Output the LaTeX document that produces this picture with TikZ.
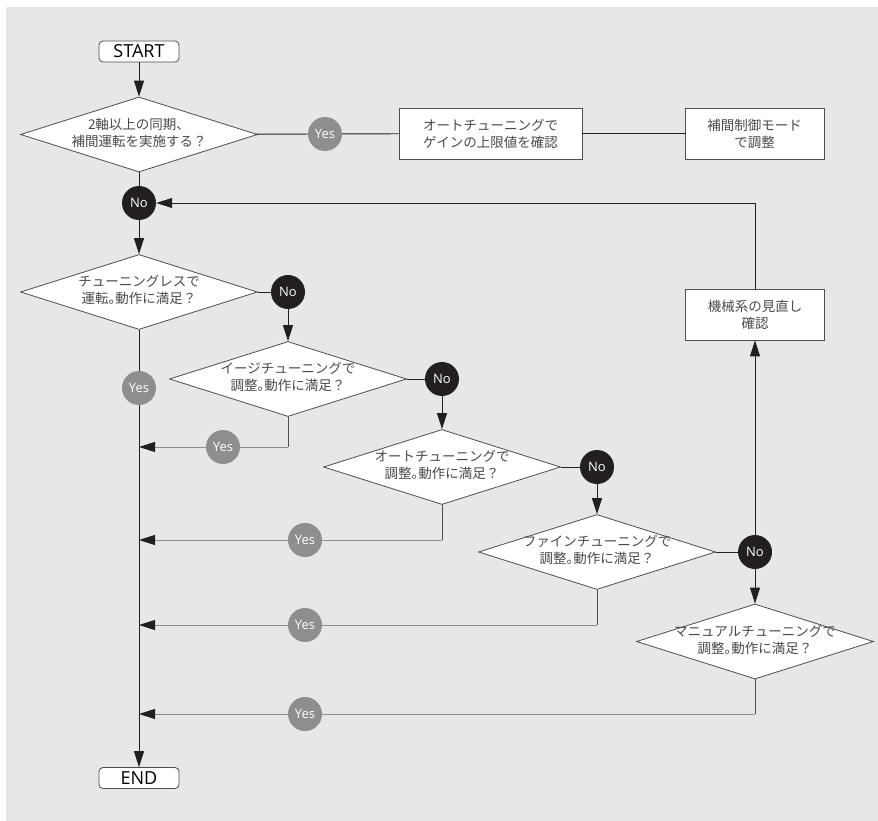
\documentclass[tikz,border=0pt]{standalone}
\usepackage{fontspec}
\setmainfont{Open Sans}
\newfontfamily\jpfont{Noto Sans CJK JP}
\usetikzlibrary{shapes.geometric,arrows.meta}
\definecolor{bggray}{HTML}{E6E7E8}
\definecolor{yesgray}{HTML}{8E8E8E}
\definecolor{noblack}{HTML}{231F20}
\definecolor{linegray}{HTML}{4D4D4D}
\definecolor{textgray}{HTML}{4A4A4A}
\newcommand{\twoline}[2]{\makebox[0pt]{\begin{tabular}{@{}c@{}}#1\\#2\end{tabular}}}
\newcommand{\maru}{\makebox[0.5em][l]{。}}

\begin{document}
\begin{tikzpicture}[x=1pt,y=-1pt,
terminal/.style={rectangle, rounded corners=4pt, draw=linegray, fill=white, line width=0.8pt, minimum width=80pt, minimum height=21pt, inner sep=0pt, font=\fontsize{18}{18}\selectfont},
decision/.style={diamond, draw=linegray, fill=white, line width=0.8pt, minimum width=237pt, minimum height=75pt, inner sep=0pt, text=textgray, font=\jpfont\fontsize{13.5}{17}\selectfont},
process/.style={rectangle, draw=linegray, fill=white, line width=0.8pt, minimum width=183pt, minimum height=51pt, align=center, text=textgray, font=\jpfont\fontsize{13.5}{17}\selectfont},
yesnode/.style={circle, fill=yesgray, text=white, minimum size=34pt, inner sep=0pt, font=\fontsize{13}{13}\selectfont},
nonode/.style={circle, fill=noblack, text=white, minimum size=34pt, inner sep=0pt, font=\fontsize{13}{13}\selectfont},
link/.style={draw=noblack, line width=0.9pt},
arrow/.style={link, -{Triangle[length=16pt,width=10pt]}},
yeslink/.style={draw=yesgray, line width=0.9pt},
yesarrow/.style={yeslink, -{Triangle[length=16pt,width=10pt,color=noblack]}},
]
\useasboundingbox (0,0) rectangle (878,821);
\fill[bggray] (6,7) rectangle (878,821);

% main column
\node[terminal] (start) at (139,51.5) {START};
\node[decision] (d1) at (139,134.5) {\twoline{2軸以上の同期、}{補間運転を実施する？}};
\node[yesnode] (y1) at (325,134) {Yes};
\node[process] (b1) at (490.5,133.5) {オートチューニングで\\ゲインの上限値を確認};
\node[process, minimum width=139pt] (b2) at (754.5,133.5) {補間制御モード\\で調整};
\node[nonode] (n1) at (139,203) {No};
\node[decision] (d2) at (139,292) {\twoline{チューニングレスで}{運転\maru 動作に満足？}};
\node[yesnode] (y2) at (139,388) {Yes};
\node[terminal] (end) at (139,778) {END};

% tuning steps
\node[nonode] (n2) at (288,292) {No};
\node[decision] (d3) at (288,379) {\twoline{イージチューニングで}{調整\maru 動作に満足？}};
\node[nonode] (n3) at (442,379) {No};
\node[decision] (d4) at (442,467) {\twoline{オートチューニングで}{調整\maru 動作に満足？}};
\node[nonode] (n4) at (597,467) {No};
\node[decision] (d5) at (597,552) {\twoline{ファインチューニングで}{調整\maru 動作に満足？}};
\node[nonode] (n5) at (755,552) {No};
\node[decision] (d6) at (755,641.5) {\twoline{マニュアルチューニングで}{調整\maru 動作に満足？}};
\node[process, minimum width=139pt] (mb) at (755,314.5) {機械系の見直し\\確認};

% yes returns
\node[yesnode] (y3) at (223,447) {Yes};
\node[yesnode] (y4) at (305,540) {Yes};
\node[yesnode] (y5) at (305,625) {Yes};
\node[yesnode] (y6) at (305,714) {Yes};
\coordinate (c3) at (288,447);
\coordinate (c4) at (442,540);
\coordinate (c5) at (597,625);
\coordinate (c6) at (755,714);
\coordinate (m3) at (139,447);
\coordinate (m4) at (139,540);
\coordinate (m5) at (139,625);
\coordinate (m6) at (139,714);

\draw[arrow] (start) -- (d1);
\draw[link] (d1) -- (y1);
\draw[link] (y1) -- (b1);
\draw[link] (b1) -- (b2);
\draw[link] (d1) -- (n1);
\draw[arrow] (n1) -- (d2);
\draw[link] (d2) -- (y2);
\draw[arrow] (y2) -- (end);

\draw[link] (d2) -- (n2);
\draw[arrow] (n2) -- (d3);
\draw[link] (d3) -- (n3);
\draw[arrow] (n3) -- (d4);
\draw[link] (d4) -- (n4);
\draw[arrow] (n4) -- (d5);
\draw[link] (d5) -- (n5);
\draw[arrow] (n5) -- (d6);
\draw[arrow] (n5) -- (mb);
\draw[arrow] (mb) |- (n1);

\draw[link, draw=linegray] (d3.south) -- (c3);
\draw[yeslink] (c3) -- (y3);
\draw[yesarrow] (y3) -- (m3);
\draw[link, draw=linegray] (d4.south) -- (c4);
\draw[yeslink] (c4) -- (y4);
\draw[yesarrow] (y4) -- (m4);
\draw[link, draw=linegray] (d5.south) -- (c5);
\draw[yeslink] (c5) -- (y5);
\draw[yesarrow] (y5) -- (m5);
\draw[link, draw=linegray] (d6.south) -- (c6);
\draw[yeslink] (c6) -- (y6);
\draw[yesarrow] (y6) -- (m6);
\end{tikzpicture}
\end{document}
